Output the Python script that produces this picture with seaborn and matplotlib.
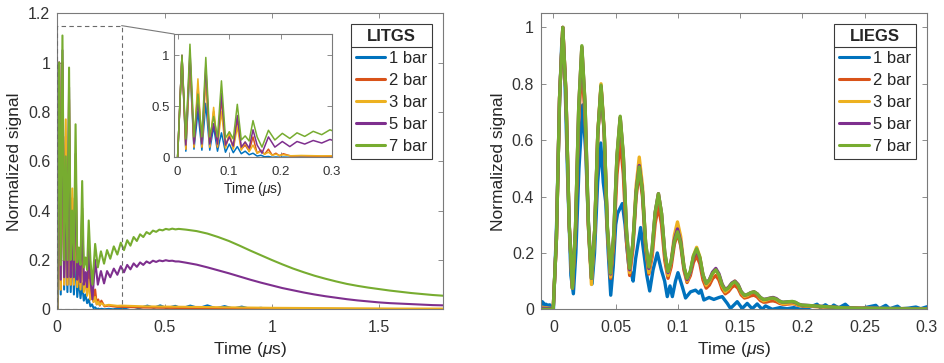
import numpy as np
import pandas as pd
import matplotlib
matplotlib.use("Agg")
import matplotlib.pyplot as plt
import seaborn as sns
from matplotlib.patches import Rectangle, ConnectionPatch
from matplotlib.ticker import FuncFormatter
from matplotlib.lines import Line2D

SERIES = ["1 bar", "2 bar", "3 bar", "5 bar", "7 bar"]
COLORS = ["#0072BD", "#D95319", "#EDB120", "#7E2F8E", "#77AC30"]

# ---------------- LITGS (left panel), time in microseconds ----------------
T_L_OSC = [0.000, 0.0085, 0.0160, 0.0240, 0.0318, 0.0395, 0.0472, 0.0548, 0.0625, 0.0700,
           0.0775, 0.0852, 0.0930, 0.1005, 0.1082, 0.1160, 0.1237, 0.1313, 0.1390, 0.1465,
           0.1545, 0.1620, 0.1690, 0.1765, 0.1840, 0.1910, 0.1980, 0.2055, 0.22, 0.24,
           0.26, 0.28, 0.30]
L_1BAR_OSC = [0.0, 1.0, 0.06, 0.9, 0.08, 0.45, 0.07, 0.53, 0.07, 0.3, 0.06, 0.24, 0.05, 0.13,
              0.045, 0.105, 0.035, 0.06, 0.025, 0.04, 0.012, 0.02, 0.005, 0.008, 0.0, 0.003,
              0.0, 0.002, 0.0, 0.002, 0.0, 0.003, 0.004]
L_2BAR_OSC = [0.0, 1.0, 0.08, 1.0, 0.1, 0.7, 0.1, 0.85, 0.1, 0.45, 0.1, 0.58, 0.1, 0.22, 0.09,
              0.38, 0.08, 0.12, 0.06, 0.2, 0.04, 0.07, 0.03, 0.08, 0.02, 0.04, 0.015, 0.035,
              0.012, 0.015, 0.012, 0.01, 0.01]
L_3BAR_OSC = [0.0, 1.0, 0.08, 0.95, 0.1, 0.77, 0.1, 0.75, 0.1, 0.49, 0.1, 0.45, 0.09, 0.25, 0.08,
              0.3, 0.07, 0.15, 0.055, 0.12, 0.04, 0.06, 0.03, 0.05, 0.02, 0.03, 0.018, 0.025,
              0.015, 0.018, 0.016, 0.014, 0.015]
T_L_1BAR_TAIL = [0.32, 0.35, 0.38, 0.42, 0.45, 0.48, 0.51, 0.55, 0.58, 0.62, 0.66, 0.70, 0.74,
                 0.78, 0.82, 0.86, 0.90, 0.95, 1.0, 1.8]
L_1BAR_TAIL = [0.005, 0.012, 0.004, 0.015, 0.006, 0.016, 0.005, 0.014, 0.004, 0.015, 0.005,
               0.016, 0.004, 0.013, 0.003, 0.011, 0.002, 0.006, 0.0, 0.0]
T_L_2BAR_TAIL = [0.4, 0.6, 0.8, 1.0, 1.4, 1.8]
L_2BAR_TAIL = [0.007, 0.005, 0.003, 0.002, 0.001, 0.001]
T_L_3BAR_TAIL = [0.4, 0.6, 0.8, 1.0, 1.2, 1.4, 1.6, 1.8]
L_3BAR_TAIL = [0.012, 0.01, 0.008, 0.006, 0.005, 0.004, 0.003, 0.003]

T_L_SLOW = [0.000, 0.0085, 0.0160, 0.0240, 0.0318, 0.0395, 0.0472, 0.0548, 0.0625, 0.0700,
            0.0775, 0.0852, 0.0930, 0.1005, 0.1082, 0.1160, 0.1237, 0.1313, 0.1390, 0.1465,
            0.1545, 0.1640, 0.1765, 0.1890, 0.2035, 0.2180, 0.2320, 0.2470, 0.2635, 0.2800,
            0.2960, 0.3110, 0.3260, 0.3410, 0.3560, 0.3710, 0.3860, 0.4010, 0.4160, 0.4310,
            0.4460, 0.4610, 0.4760, 0.4910, 0.5060, 0.5210, 0.5360, 0.5510, 0.5660, 0.60,
            0.65, 0.70, 0.75, 0.80, 0.85, 0.90, 0.95, 1.00, 1.05, 1.10, 1.15, 1.20, 1.25,
            1.30, 1.35, 1.40, 1.45, 1.50, 1.55, 1.60, 1.65, 1.70, 1.75, 1.80]
L_5BAR = [0.0, 1.0, 0.12, 1.05, 0.13, 0.55, 0.13, 0.90, 0.13, 0.33, 0.13, 0.63, 0.12, 0.2, 0.11,
          0.41, 0.1, 0.15, 0.09, 0.27, 0.12, 0.04, 0.2, 0.10, 0.155, 0.105, 0.155, 0.13, 0.165,
          0.14, 0.175, 0.15, 0.18, 0.162, 0.186, 0.172, 0.19, 0.18, 0.194, 0.187, 0.197, 0.192,
          0.198, 0.195, 0.199, 0.196, 0.197, 0.194, 0.194, 0.189, 0.181, 0.17, 0.158, 0.146,
          0.133, 0.12, 0.108, 0.097, 0.086, 0.077, 0.068, 0.06, 0.053, 0.047, 0.041, 0.036,
          0.032, 0.028, 0.025, 0.023, 0.021, 0.019, 0.017, 0.016]
L_7BAR = [0.0, 1.0, 0.18, 1.11, 0.2, 0.62, 0.2, 0.98, 0.2, 0.40, 0.2, 0.75, 0.19, 0.25, 0.18,
          0.52, 0.17, 0.21, 0.16, 0.36, 0.2, 0.10, 0.265, 0.17, 0.235, 0.185, 0.24, 0.205,
          0.255, 0.222, 0.27, 0.24, 0.28, 0.258, 0.293, 0.277, 0.304, 0.293, 0.313, 0.305,
          0.319, 0.314, 0.323, 0.320, 0.326, 0.323, 0.327, 0.324, 0.326, 0.323, 0.317, 0.307,
          0.293, 0.277, 0.258, 0.238, 0.219, 0.2, 0.182, 0.165, 0.15, 0.136, 0.124, 0.113,
          0.103, 0.095, 0.088, 0.082, 0.076, 0.071, 0.066, 0.062, 0.058, 0.055]

# ---------------- LIEGS (right panel) ----------------
T_R = [-0.010, -0.006, -0.002,
       -0.0002, 0.0024, 0.0049, 0.0075, 0.0100, 0.0126, 0.0152, 0.0177, 0.0203, 0.0228,
       0.0254, 0.0280, 0.0305, 0.0331, 0.0356, 0.0382, 0.0408, 0.0433, 0.0459, 0.0484,
       0.0510, 0.0536, 0.0561, 0.0587, 0.0612, 0.0638, 0.0664, 0.0689, 0.0715, 0.0740,
       0.0766, 0.0792, 0.0817, 0.0843, 0.0868, 0.0894, 0.0920, 0.0945, 0.0971, 0.0996,
       0.1022, 0.1048, 0.1073, 0.1099, 0.1124, 0.1150, 0.1176, 0.1201, 0.1227, 0.1252,
       0.1278, 0.1304, 0.1329, 0.1355, 0.1380, 0.1406, 0.1432, 0.1457, 0.1483, 0.1508,
       0.1534, 0.1560, 0.1585, 0.1611, 0.1636, 0.1662, 0.1688, 0.1713, 0.1739, 0.1764,
       0.1790, 0.1816, 0.1841, 0.1867, 0.1892, 0.1918, 0.1944, 0.1969, 0.1995,
       0.21, 0.23, 0.25, 0.27, 0.30]
R_2BAR = [0.005, 0.004, 0.002,
          0.0, 0.25, 0.75, 1.0,
          0.769, 0.306, 0.075, 0.274, 0.671, 0.87,
          0.68, 0.30, 0.11, 0.28, 0.62, 0.79,
          0.62, 0.28, 0.11, 0.233, 0.478, 0.60,
          0.48, 0.24, 0.12, 0.213, 0.398, 0.49,
          0.399, 0.216, 0.125, 0.185, 0.305, 0.365,
          0.301, 0.174, 0.11, 0.15, 0.23, 0.27,
          0.226, 0.139, 0.095, 0.119, 0.166, 0.19,
          0.161, 0.104, 0.075, 0.086, 0.109, 0.12,
          0.104, 0.071, 0.055, 0.063, 0.078, 0.085,
          0.074, 0.051, 0.04, 0.043, 0.048, 0.05,
          0.044, 0.031, 0.025, 0.026, 0.029, 0.03,
          0.027, 0.021, 0.018, 0.018, 0.019, 0.02,
          0.018, 0.014, 0.012,
          0.01, 0.005, 0.003, 0.002, 0.001]
R_3BAR = [0.008, 0.005, 0.003,
          0.0, 0.25, 0.75, 1.0,
          0.769, 0.306, 0.075, 0.289, 0.716, 0.93,
          0.72, 0.30, 0.088, 0.266, 0.622, 0.80,
          0.629, 0.286, 0.115, 0.256, 0.539, 0.68,
          0.543, 0.268, 0.13, 0.233, 0.438, 0.54,
          0.438, 0.233, 0.13, 0.20, 0.34, 0.41,
          0.338, 0.193, 0.12, 0.168, 0.263, 0.31,
          0.258, 0.153, 0.10, 0.13, 0.19, 0.22,
          0.186, 0.119, 0.085, 0.099, 0.126, 0.14,
          0.121, 0.082, 0.062, 0.072, 0.09, 0.10,
          0.086, 0.059, 0.045, 0.049, 0.058, 0.062,
          0.054, 0.038, 0.03, 0.033, 0.038, 0.04,
          0.035, 0.025, 0.02, 0.021, 0.022, 0.022,
          0.02, 0.015, 0.013,
          0.01, 0.006, 0.004, 0.003, 0.002]
R_5BAR = [0.004, 0.003, 0.002,
          0.0, 0.25, 0.75, 1.0,
          0.769, 0.306, 0.075, 0.289, 0.716, 0.93,
          0.725, 0.315, 0.11, 0.28, 0.62, 0.79,
          0.624, 0.291, 0.125, 0.264, 0.541, 0.68,
          0.545, 0.275, 0.14, 0.233, 0.418, 0.51,
          0.419, 0.236, 0.145, 0.211, 0.344, 0.41,
          0.34, 0.20, 0.13, 0.169, 0.246, 0.285,
          0.24, 0.15, 0.105, 0.131, 0.184, 0.21,
          0.18, 0.121, 0.092, 0.105, 0.132, 0.145,
          0.126, 0.089, 0.07, 0.078, 0.093, 0.10,
          0.088, 0.063, 0.05, 0.053, 0.059, 0.062,
          0.055, 0.042, 0.035, 0.037, 0.04, 0.042,
          0.038, 0.029, 0.025, 0.026, 0.027, 0.027,
          0.024, 0.018, 0.015,
          0.012, 0.006, 0.003, 0.002, 0.001]
R_7BAR = [0.0, 0.0, 0.0,
          0.0, 0.25, 0.75, 1.0,
          0.769, 0.306, 0.075, 0.29, 0.72, 0.935,
          0.729, 0.316, 0.11, 0.281, 0.624, 0.795,
          0.628, 0.295, 0.128, 0.267, 0.546, 0.685,
          0.55, 0.28, 0.145, 0.235, 0.415, 0.505,
          0.416, 0.239, 0.15, 0.215, 0.345, 0.41,
          0.341, 0.203, 0.134, 0.169, 0.24, 0.275,
          0.234, 0.151, 0.11, 0.136, 0.189, 0.215,
          0.184, 0.123, 0.092, 0.104, 0.128, 0.14,
          0.122, 0.086, 0.068, 0.076, 0.091, 0.098,
          0.086, 0.062, 0.05, 0.053, 0.059, 0.062,
          0.055, 0.042, 0.035, 0.036, 0.039, 0.04,
          0.036, 0.029, 0.025, 0.026, 0.027, 0.028,
          0.025, 0.018, 0.015,
          0.012, 0.006, 0.003, 0.002, 0.001]
T_R_1BAR = [-0.0100, -0.0090, -0.0080, -0.0070, -0.0060, -0.0050, -0.0040, -0.0030, -0.0020,
            -0.0010, 0.0000, 0.0025, 0.0050, 0.0068, 0.0090, 0.0115, 0.0140, 0.0160, 0.0180,
            0.0205, 0.0235, 0.0260, 0.0285, 0.0310, 0.0330, 0.0355, 0.0380, 0.0400, 0.0420,
            0.0440, 0.0460, 0.0480, 0.0500, 0.0515, 0.0553, 0.0575, 0.0590, 0.0607, 0.0625,
            0.0640, 0.0660, 0.0700, 0.0720, 0.0750, 0.0773, 0.0800, 0.0834, 0.0866, 0.0893,
            0.0914, 0.0936, 0.0955, 0.0980, 0.1000, 0.1035, 0.1061, 0.1101, 0.1141, 0.1168,
            0.1185, 0.1208, 0.1250, 0.1288, 0.1330, 0.1355, 0.1396, 0.1422, 0.1476, 0.1516,
            0.1556, 0.1596, 0.1636, 0.1676, 0.1703, 0.1757, 0.1820, 0.1877, 0.1930, 0.1984,
            0.2050, 0.2117, 0.2144, 0.2184, 0.2224, 0.2251, 0.2290, 0.2344, 0.2384, 0.2480,
            0.2589, 0.2616, 0.2669, 0.2700, 0.2763, 0.2790, 0.2850, 0.2911, 0.2950, 0.3000]
R_1BAR = [0.0, 0.027, 0.022, 0.015, 0.018, 0.015, 0.014, 0.016, 0.01,
          0.003, 0.0, 0.3, 0.75, 0.96, 0.85, 0.45, 0.12, 0.055, 0.2,
          0.5, 0.725, 0.55, 0.25, 0.09, 0.2, 0.45, 0.59, 0.45, 0.38,
          0.2, 0.05, 0.15, 0.30, 0.34, 0.375, 0.3, 0.22, 0.145, 0.128,
          0.10, 0.18, 0.29, 0.22, 0.12, 0.065, 0.14, 0.20, 0.14, 0.10,
          0.045, 0.083, 0.045, 0.10, 0.13, 0.08, 0.04, 0.062, 0.068, 0.057,
          0.068, 0.033, 0.042, 0.035, 0.042, 0.045, 0.021, 0.003, 0.027, 0.003,
          0.021, 0.002, 0.019, 0.0, 0.012, 0.0, 0.006, 0.002, 0.006, 0.0,
          0.006, 0.018, 0.005, 0.016, 0.004, 0.015, 0.005, 0.018, 0.002, 0.004,
          0.014, 0.002, 0.014, 0.002, 0.011, 0.002, 0.004, 0.008, 0.002, 0.009]

# ---------------- build tables ----------------
def long_table(parts):
    frames = [pd.DataFrame({"t": t, "v": v, "series": s}) for s, t, v in parts]
    return pd.concat(frames, ignore_index=True)

df_left = long_table([
    ("1 bar", T_L_OSC + T_L_1BAR_TAIL, L_1BAR_OSC + L_1BAR_TAIL),
    ("2 bar", T_L_OSC + T_L_2BAR_TAIL, L_2BAR_OSC + L_2BAR_TAIL),
    ("3 bar", T_L_OSC + T_L_3BAR_TAIL, L_3BAR_OSC + L_3BAR_TAIL),
    ("5 bar", T_L_SLOW, L_5BAR),
    ("7 bar", T_L_SLOW, L_7BAR),
])
df_right = long_table([
    ("1 bar", T_R_1BAR, R_1BAR),
    ("2 bar", T_R, R_2BAR),
    ("3 bar", T_R, R_3BAR),
    ("5 bar", T_R, R_5BAR),
    ("7 bar", T_R, R_7BAR),
])

# ---------------- style ----------------
sns.set_theme(style="white")
plt.rcParams.update({
    "font.family": ["Liberation Sans", "DejaVu Sans"],
    "mathtext.fontset": "custom",
    "mathtext.rm": "Liberation Sans",
    "mathtext.it": "Liberation Sans:italic",
    "axes.edgecolor": "#7a7a7a",
    "axes.linewidth": 0.8,
    "text.color": "#262626",
    "axes.labelcolor": "#262626",
})

fig = plt.figure(figsize=(9.45, 3.63), dpi=100)
W, H = 945.0, 363.0
axL = fig.add_axes([57.3 / W, 1 - 309.3 / H, 386 / W, 296 / H])
axR = fig.add_axes([541 / W, 1 - 309.3 / H, 386 / W, 296 / H])
axI = fig.add_axes([174 / W, 1 - 157.3 / H, 158 / W, 123.3 / H], zorder=5)

fmt = FuncFormatter(lambda v, p: f"{v:g}")


def draw(ax, df, lw, legend):
    sns.lineplot(data=df, x="t", y="v", hue="series", hue_order=SERIES, palette=COLORS,
                 estimator=None, sort=False, linewidth=lw, ax=ax, legend=legend)


def style_axes(ax, size, pad_x, pad_y):
    ax.tick_params(direction="in", length=3.5, width=0.6, colors="#7a7a7a",
                   labelcolor="#333333", labelsize=size, top=True, right=True,
                   bottom=True, left=True)
    ax.tick_params(axis="x", pad=pad_x)
    ax.tick_params(axis="y", pad=pad_y)
    ax.xaxis.set_major_formatter(fmt)
    ax.yaxis.set_major_formatter(fmt)
    ax.set_facecolor("white")
    for sp in ax.spines.values():
        sp.set_visible(True)
        sp.set_color("#7a7a7a")
        sp.set_linewidth(0.8)


def make_legend(ax, title, anchor):
    h, l = ax.get_legend_handles_labels()
    leg = ax.legend(h, l, title=title, loc="upper right", bbox_to_anchor=anchor,
                    frameon=True, fancybox=False, edgecolor="#3a3a3a", framealpha=1,
                    fontsize=12, title_fontproperties={"weight": "bold", "size": 12},
                    handlelength=1.75, handletextpad=0.25, labelspacing=0.42,
                    borderpad=0.3, borderaxespad=0)
    leg.get_frame().set_linewidth(0.8)
    for ln in leg.get_lines():
        ln.set_linewidth(2.2)
    return leg


# left main
draw(axL, df_left, 1.5, True)
axL.set_xlim(0, 1.8)
axL.set_ylim(0, 1.2)
axL.set_xticks([0, 0.5, 1, 1.5])
axL.set_yticks([0, 0.2, 0.4, 0.6, 0.8, 1.0, 1.2])
style_axes(axL, 11.5, 8, 5)
axL.set_xlabel("Time ($\\mu$s)", fontsize=12.5, labelpad=3)
axL.set_ylabel("Normalized signal", fontsize=12.5, labelpad=4)
legL = make_legend(axL, "LITGS", (0.971, 0.964))

# zoom box and connector
ZOOM_X = (0.0, 0.3)
ZOOM_TOP = 1.15
axL.add_patch(Rectangle((ZOOM_X[0], 0), ZOOM_X[1] - ZOOM_X[0], ZOOM_TOP, fill=False,
                        ls=(0, (4, 3)), ec="#6a6a6a", lw=0.8, zorder=4))

# inset
draw(axI, df_left, 1.1, False)
axI.set_xlim(-0.007, 0.3)
axI.set_ylim(0, 1.21)
axI.set_xticks([0, 0.1, 0.2, 0.3])
axI.set_yticks([0, 0.5, 1])
style_axes(axI, 9.5, 6, 3)
axI.set_xlabel("Time ($\\mu$s)", fontsize=10, labelpad=2)
axI.set_ylabel("")
con = ConnectionPatch(xyA=(ZOOM_X[1], ZOOM_TOP), coordsA=axL.transData,
                      xyB=(0, 1), coordsB=axI.transAxes, color="#7a7a7a", lw=0.8)
fig.add_artist(con)

# right
draw(axR, df_right, 2.4, True)
axR.set_xlim(-0.01, 0.3)
axR.set_ylim(0, 1.05)
axR.set_xticks([0, 0.05, 0.1, 0.15, 0.2, 0.25, 0.3])
axR.set_yticks([0, 0.2, 0.4, 0.6, 0.8, 1.0])
style_axes(axR, 11.5, 8, 5)
axR.set_xlabel("Time ($\\mu$s)", fontsize=12.5, labelpad=3)
axR.set_ylabel("Normalized signal", fontsize=12.5, labelpad=4)
legR = make_legend(axR, "LIEGS", (0.9715, 0.964))

# separator line under the legend titles
fig.canvas.draw()
inv = fig.transFigure.inverted()
for leg in (legL, legR):
    fb = leg.get_frame().get_window_extent()
    tb = leg.get_title().get_window_extent()
    ysep = tb.y0 - 3
    p0 = inv.transform((fb.x0, ysep))
    p1 = inv.transform((fb.x1, ysep))
    fig.add_artist(Line2D([p0[0], p1[0]], [p0[1], p1[1]], color="#3a3a3a", lw=0.8,
                          transform=fig.transFigure, zorder=10))

fig.savefig("out.png", dpi=100)
